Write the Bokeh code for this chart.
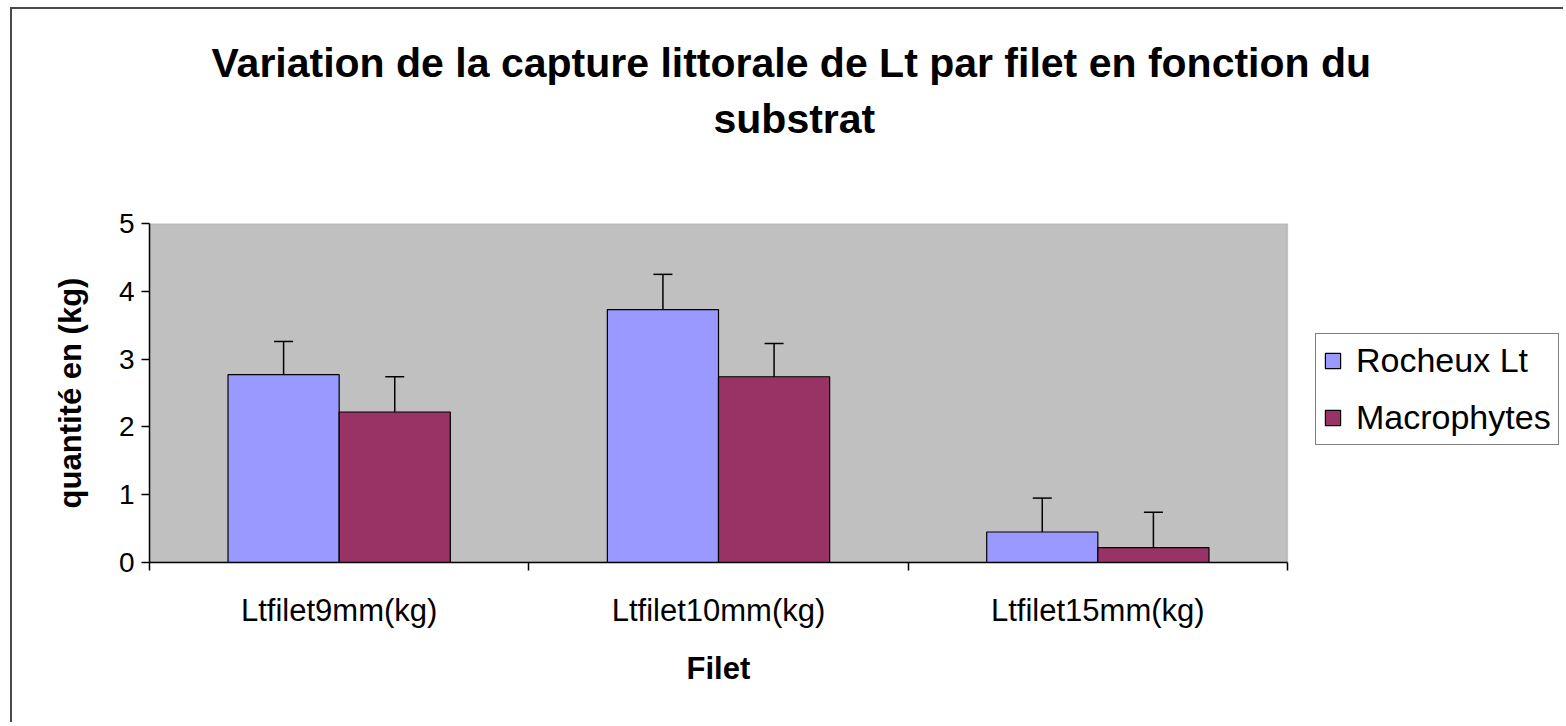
from bokeh.plotting import figure
from bokeh.models import (ColumnDataSource, Whisker, TeeHead, LinearAxis, FixedTicker,
                          Range1d, Title, Legend, LegendItem, BoxAnnotation)
from bokeh.embed import file_html
from bokeh.resources import INLINE

# ---- data ----
categories = ["Ltfilet9mm(kg)", "Ltfilet10mm(kg)", "Ltfilet15mm(kg)"]
series_names = ["Rocheux Lt", "Macrophytes"]
rocheux = [2.77, 3.73, 0.45]
rocheux_err = [0.49, 0.52, 0.50]
macrophytes = [2.22, 2.74, 0.22]
macrophytes_err = [0.52, 0.49, 0.52]
y_ticks = [0, 1, 2, 3, 4, 5]
title_lines = ["Variation de la capture littorale de Lt par filet en  fonction du", "substrat"]
x_title = "Filet"
y_title = "quantité en (kg)"

colors = ["#9999FF", "#993366"]
FONT = "Liberation Sans"
BAR_W = 0.293
PLOT_W = 1138      # width of the grey plot area in px
FRAME_W = 1414     # frame extends to the right to hold the legend

n = len(categories)
centers = [i + 0.5 for i in range(n)]
boundaries = [float(i) for i in range(n + 1)]

src = ColumnDataSource(dict(
    xa=[c - BAR_W / 2 for c in centers],
    xb=[c + BAR_W / 2 for c in centers],
    rocheux=rocheux,
    macro=macrophytes,
    r_up=[v + e for v, e in zip(rocheux, rocheux_err)],
    m_up=[v + e for v, e in zip(macrophytes, macrophytes_err)],
))

p = figure(frame_width=FRAME_W, frame_height=339,
           x_range=Range1d(0, n * FRAME_W / PLOT_W), y_range=Range1d(0, 5),
           output_backend="svg", toolbar_location=None, x_axis_type=None,
           min_border_left=137, min_border_right=0, min_border_top=214, min_border_bottom=160)
p.styles = {"border-left": "2px solid #4a4a4a", "border-top": "2px solid #4a4a4a",
            "margin-left": "10px", "margin-top": "7px"}

p.background_fill_color = "white"
p.border_fill_color = "white"
p.outline_line_color = None
p.grid.visible = False

# grey plot area
p.add_layout(BoxAnnotation(left=0, right=n, bottom=0, top=5, fill_color="#C0C0C0", fill_alpha=1,
                           line_color="#808080", line_width=1.5, level="image"))

# bars
r1 = p.vbar(x="xa", top="rocheux", width=BAR_W, source=src, fill_color=colors[0],
            line_color="black", line_width=1.2)
r2 = p.vbar(x="xb", top="macro", width=BAR_W, source=src, fill_color=colors[1],
            line_color="black", line_width=1.2)

# error bars (plus direction)
for base, low, up in (("xa", "rocheux", "r_up"), ("xb", "macro", "m_up")):
    w = Whisker(source=src, base=base, lower=low, upper=up, line_color="black", line_width=1.5,
                upper_head=TeeHead(size=19, line_color="black", line_width=1.5), lower_head=None,
                level="glyph")
    p.add_layout(w)

# y axis
ya = p.yaxis[0]
ya.ticker = FixedTicker(ticks=y_ticks, minor_ticks=[])
ya.major_tick_out = 8
ya.major_tick_in = 0
ya.minor_tick_out = 0
ya.minor_tick_in = 0
ya.axis_line_color = "black"
ya.axis_line_width = 1.5
ya.major_tick_line_width = 1.5
ya.major_label_standoff = 7
ya.major_label_text_font = FONT
ya.major_label_text_font_size = "28px"
ya.major_label_text_color = "black"
ya.axis_label = y_title
ya.axis_label_text_font = FONT
ya.axis_label_text_font_size = "31px"
ya.axis_label_text_font_style = "bold"
ya.axis_label_text_color = "black"
ya.axis_label_standoff = 28

# x axis: tick marks between categories
xt = LinearAxis(ticker=FixedTicker(ticks=boundaries, minor_ticks=[]), bounds=(0, n),
                major_tick_out=8, major_tick_in=0, axis_line_color="black", axis_line_width=1.5,
                major_tick_line_width=1.5, major_label_text_font_size="1px",
                major_label_text_alpha=0, major_label_standoff=0)
p.add_layout(xt, "below")

# x axis: category labels at centers
xl = LinearAxis(ticker=FixedTicker(ticks=centers, minor_ticks=[]),
                major_label_overrides={c: lab for c, lab in zip(centers, categories)},
                major_tick_out=0, major_tick_in=0, axis_line_color=None,
                major_label_standoff=22, major_label_text_font=FONT,
                major_label_text_font_size="31px", major_label_text_color="black")
p.add_layout(xl, "below")

# x axis title, centred under the grey plot area
xtitle = Title(text=x_title, align="left", offset=537, standoff=36, text_font=FONT,
               text_font_size="31px", text_font_style="bold", text_color="black")
p.add_layout(xtitle, "below")

# title (two lines, stacked above the frame; a tiny spacer keeps the gap to the frame)
spacer = Title(text=" ", text_font_size="1px", standoff=74)
t2 = Title(text=title_lines[1], align="left", offset=564, standoff=10, text_font=FONT,
           text_font_size="41px", text_font_style="bold", text_color="black")
t1 = Title(text=title_lines[0], align="left", offset=62, standoff=6, text_font=FONT,
           text_font_size="41px", text_font_style="bold", text_color="black")
p.add_layout(spacer, "above")
p.add_layout(t2, "above")
p.add_layout(t1, "above")

legend = Legend(items=[LegendItem(label=series_names[0], renderers=[r1]),
                       LegendItem(label=series_names[1], renderers=[r2])],
                location=(1166, 117), orientation="vertical")
legend.border_line_color = "black"
legend.border_line_width = 1.5
legend.background_fill_color = "white"
legend.background_fill_alpha = 1
legend.label_text_font = FONT
legend.label_text_font_size = "34px"
legend.label_text_color = "black"
legend.glyph_width = 19
legend.glyph_height = 19
legend.label_standoff = 14
legend.padding = 7
legend.spacing = 18
legend.margin = 0
p.add_layout(legend, "center")

open("out.html", "w").write(file_html(p, INLINE))
